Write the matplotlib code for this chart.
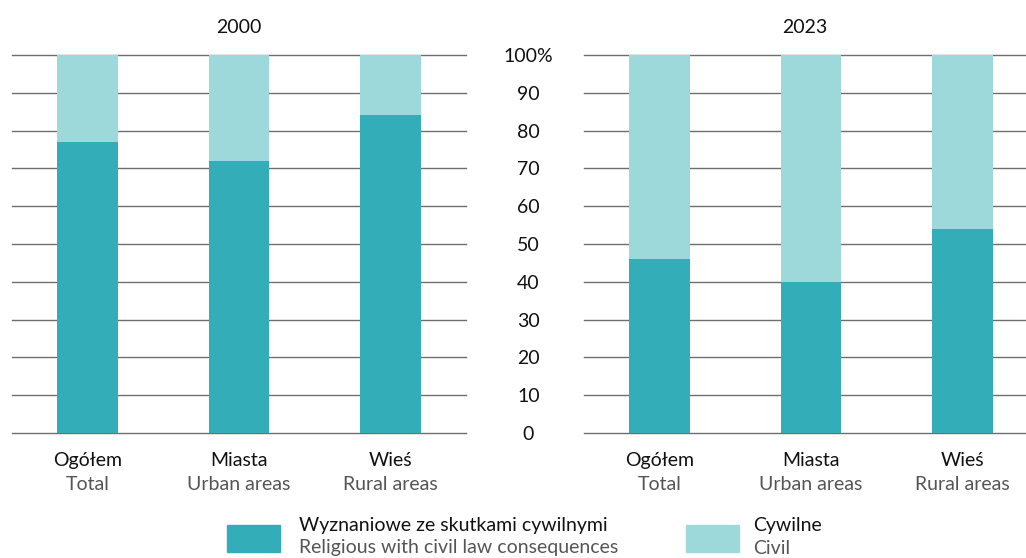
import matplotlib
matplotlib.use("Agg")
import matplotlib.pyplot as plt
from matplotlib.patches import Rectangle
import matplotlib.transforms as mtransforms
import numpy as np

plt.rcParams['font.family'] = ['Lato', 'DejaVu Sans']

years = ["2000", "2023"]
cats_pl = ["Ogółem", "Miasta", "Wieś"]
cats_en = ["Total", "Urban areas", "Rural areas"]
religious = {"2000": [77, 72, 84], "2023": [46, 40, 54]}
civil = {"2000": [23, 28, 16], "2023": [54, 60, 46]}
yticks = [0, 10, 20, 30, 40, 50, 60, 70, 80, 90, 100]
ytick_labels = ["0", "10", "20", "30", "40", "50", "60", "70", "80", "90", "100%"]
legend_pl = ["Wyznaniowe ze skutkami cywilnymi", "Cywilne"]
legend_en = ["Religious with civil law consequences", "Civil"]

C_DARK = "#33adb8"
C_LIGHT = "#9dd8db"
C_GRID = "#6e6e6e"
FS = 14

W, H = 1026, 558
fig = plt.figure(figsize=(W / 100, H / 100), dpi=100)

def fx(px):
    return px / W

def fy(py):
    return 1 - py / H

top, bot = 55, 433
axes = [
    fig.add_axes([fx(12), fy(bot), fx(466 - 12), (bot - top) / H]),
    fig.add_axes([fx(584), fy(bot), fx(1026 - 584), (bot - top) / H]),
]
xlims = [(-0.5, 2.5), (-0.5, 2.42)]

for i, (ax, yr) in enumerate(zip(axes, years)):
    x = np.arange(len(cats_pl))
    ax.bar(x, religious[yr], width=0.40, color=C_DARK, zorder=3)
    ax.bar(x, civil[yr], bottom=religious[yr], width=0.40, color=C_LIGHT, zorder=3)
    for t in yticks:
        ax.axhline(t, color=C_GRID, lw=1.0, zorder=1, clip_on=False)
    ax.set_xlim(*xlims[i])
    ax.set_ylim(0, 100)
    for s in ax.spines.values():
        s.set_visible(False)
    ax.set_xticks([])
    ax.patch.set_alpha(0)
    trans = mtransforms.blended_transform_factory(ax.transData, ax.transAxes)
    for xi, (pl, en) in enumerate(zip(cats_pl, cats_en)):
        ax.text(xi, -0.072, pl, transform=trans, ha="center", va="center",
                fontsize=FS, color="#111111")
        ax.text(xi, -0.135, en, transform=trans, ha="center", va="center",
                fontsize=FS, color="#555555")
    ax.set_title(yr, fontsize=FS, color="#111111", pad=16)
    if i == 0:
        ax.set_yticks([])
    else:
        ax.set_yticks(yticks)
        ax.set_yticklabels(ytick_labels, fontsize=FS, color="#111111", ha="center")
        ax.tick_params(axis="y", length=0, pad=40)

# legend
colors = [C_DARK, C_LIGHT]
boxes = [(227, 280, 299), (686, 739, 753)]
for (x0, x1, xt), c, pl, en in zip(boxes, colors, legend_pl, legend_en):
    fig.patches.append(Rectangle((fx(x0), fy(552)), fx(x1 - x0), (552 - 525) / H,
                                 transform=fig.transFigure, color=c))
    fig.text(fx(xt), fy(526), pl, fontsize=FS, color="#111111", va="center", ha="left")
    fig.text(fx(xt), fy(548), en, fontsize=FS, color="#555555", va="center", ha="left")

fig.savefig("out.png", dpi=100)
